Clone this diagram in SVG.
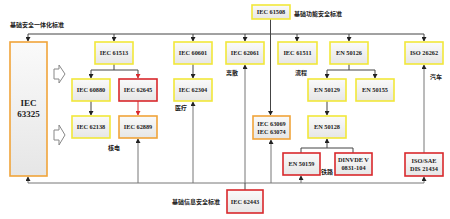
<svg xmlns="http://www.w3.org/2000/svg" width="450" height="219" viewBox="0 0 450 219">
<style>
.bx{fill:url(#g);stroke-width:1.6}
.y{stroke:#f2e83a}
.r{stroke:#d9282c}
.o{stroke:#f0a43a}
.t{font-family:"Liberation Serif",serif;font-weight:bold;font-size:6.3px;fill:#222;text-anchor:middle}
.big{font-size:9px}
.cn{font-family:"Noto Sans CJK SC",sans-serif;font-weight:bold;font-size:6px;fill:#222}
.ln{fill:none;stroke:#444;stroke-width:1}
.lg{fill:none;stroke:#777;stroke-width:1}
</style>
<defs>
<linearGradient id="g" x1="0" y1="0" x2="0" y2="1"><stop offset="0" stop-color="#fafafa"/><stop offset="1" stop-color="#e6e6e6"/></linearGradient>
<marker id="a" markerWidth="5" markerHeight="5" refX="4" refY="2.5" orient="auto" markerUnits="userSpaceOnUse"><path d="M0,0 L4.5,2.5 L0,5 Z" fill="#222"/></marker>
<marker id="ar" markerWidth="5" markerHeight="5" refX="4" refY="2.5" orient="auto" markerUnits="userSpaceOnUse"><path d="M0,0 L4.5,2.5 L0,5 Z" fill="#d9282c"/></marker>
</defs>
<rect width="450" height="219" fill="#fff"/>

<g id="connectors">
<path class="ln" d="M28,34 H424"/>
<path class="ln" d="M270.5,19 V115" marker-end="url(#a)"/>
<path class="ln" d="M28,34 V41" marker-end="url(#a)"/>
<path class="ln" d="M114,34 V41" marker-end="url(#a)"/>
<path class="ln" d="M193,34 V41" marker-end="url(#a)"/>
<path class="ln" d="M245,34 V41" marker-end="url(#a)"/>
<path class="ln" d="M297,34 V41" marker-end="url(#a)"/>
<path class="ln" d="M349,34 V41" marker-end="url(#a)"/>
<path class="ln" d="M424,34 V41" marker-end="url(#a)"/>
<path class="ln" d="M114,64 V70 M91,70 H138"/>
<path class="ln" d="M91,70 V78" marker-end="url(#a)"/>
<path class="ln" d="M138,70 V78" marker-end="url(#ar)"/>
<path class="ln" d="M91,101 V115" marker-end="url(#a)"/>
<path fill="none" stroke="#d9282c" stroke-width="1" d="M138,101 V115" marker-end="url(#ar)"/>
<path class="ln" d="M193,64 V78" marker-end="url(#a)"/>
<path class="ln" d="M349,64 V70 M327,70 H375"/>
<path class="ln" d="M327,70 V78" marker-end="url(#a)"/>
<path class="ln" d="M375,70 V78" marker-end="url(#a)"/>
<path class="ln" d="M327,101 V115" marker-end="url(#a)"/>
<path class="ln" d="M301,153 V148 H353 V153"/>
<path class="ln" d="M327,148 V139" marker-end="url(#a)"/>
<path class="lg" d="M424,153 V65" marker-end="url(#a)"/>
<path class="lg" d="M28,183 H424"/>
<path class="lg" d="M28,183 V177" marker-end="url(#a)"/>
<path class="lg" d="M138,183 V139" marker-end="url(#a)"/>
<path class="lg" d="M193,183 V102" marker-end="url(#a)"/>
<path class="lg" d="M245,183 V65" marker-end="url(#a)"/>
<path class="lg" d="M271,183 V140" marker-end="url(#a)"/>
<path class="lg" d="M301,183 V176" marker-end="url(#a)"/>
<path class="lg" d="M424,183 V177" marker-end="url(#a)"/>
<path class="ln" d="M245,190 V183"/>
<path fill="#fff" stroke="#888" stroke-width="1" d="M54,69 H59 V65 L65,74 L59,83 V79 H54 Z"/>
<path fill="#fff" stroke="#888" stroke-width="1" d="M54,130 H59 V125 L65,135 L59,145 V140 H54 Z"/>
</g>

<g id="iec61508"><rect class="bx y" x="252" y="5" width="38" height="14"/><text class="t" x="271" y="14">IEC 61508</text></g>
<g id="iec63325"><rect class="bx o" x="10" y="42" width="37" height="134"/><text class="t big" x="28.5" y="106">IEC</text><text class="t big" x="28.5" y="117">63325</text></g>
<g id="iec61513"><rect class="bx y" x="95" y="42" width="38" height="22"/><text class="t" x="114" y="55">IEC 61513</text></g>
<g id="iec60601"><rect class="bx y" x="174" y="42" width="38" height="22"/><text class="t" x="193" y="55">IEC 60601</text></g>
<g id="iec62061"><rect class="bx y" x="226" y="42" width="38" height="22"/><text class="t" x="245" y="55">IEC 62061</text></g>
<g id="iec61511"><rect class="bx y" x="278" y="42" width="39" height="22"/><text class="t" x="297.5" y="55">IEC 61511</text></g>
<g id="en50126"><rect class="bx y" x="330" y="42" width="38" height="22"/><text class="t" x="349" y="55">EN 50126</text></g>
<g id="iso26262"><rect class="bx y" x="405" y="42" width="38" height="22"/><text class="t" x="424" y="55">ISO 26262</text></g>
<g id="iec60880"><rect class="bx y" x="72" y="79" width="38" height="22"/><text class="t" x="91" y="92">IEC 60880</text></g>
<g id="iec62645"><rect class="bx r" x="119" y="79" width="38" height="22"/><text class="t" x="138" y="92">IEC 62645</text></g>
<g id="iec62304"><rect class="bx y" x="174" y="79" width="38" height="22"/><text class="t" x="193" y="92">IEC 62304</text></g>
<g id="en50129"><rect class="bx y" x="308" y="79" width="38" height="22"/><text class="t" x="327" y="92">EN 50129</text></g>
<g id="en50155"><rect class="bx y" x="356" y="79" width="38" height="22"/><text class="t" x="375" y="92">EN 50155</text></g>
<g id="iec62138"><rect class="bx y" x="72" y="116" width="38" height="22"/><text class="t" x="91" y="129">IEC 62138</text></g>
<g id="iec62889"><rect class="bx o" x="119" y="116" width="38" height="22"/><text class="t" x="138" y="129">IEC 62889</text></g>
<g id="iec63069"><rect class="bx o" x="253" y="116" width="37" height="23"/><text class="t" x="271.5" y="125.5">IEC 63069</text><text class="t" x="271.5" y="133.5">IEC 63074</text></g>
<g id="en50128"><rect class="bx y" x="308" y="116" width="38" height="22"/><text class="t" x="327" y="129">EN 50128</text></g>
<g id="en50159"><rect class="bx r" x="283" y="153" width="37" height="22"/><text class="t" x="301.5" y="166">EN 50159</text></g>
<g id="dinvde"><rect class="bx r" x="335" y="153" width="37" height="22"/><text class="t" x="353.5" y="162">DINVDE V</text><text class="t" x="353.5" y="170">0831-104</text></g>
<g id="iso21434"><rect class="bx r" x="405" y="153" width="38" height="23"/><text class="t" x="424" y="162.5">ISO/SAE</text><text class="t" x="424" y="170.5">DIS 21434</text></g>
<g id="iec62443"><rect class="bx r" x="227" y="190" width="36" height="23"/><text class="t" x="245" y="204">IEC 62443</text></g>

<g id="labels">
<text class="cn" x="10" y="27">基础安全一体化标准</text>
<text class="cn" x="294" y="16">基础功能安全标准</text>
<text class="cn" x="108" y="150">核电</text>
<text class="cn" x="175" y="110">医疗</text>
<text class="cn" x="226" y="75">离散</text>
<text class="cn" x="295" y="75">流程</text>
<text class="cn" x="430" y="79">汽车</text>
<text class="cn" x="321" y="174">铁路</text>
<text class="cn" x="172" y="204">基础信息安全标准</text>
</g>
</svg>
